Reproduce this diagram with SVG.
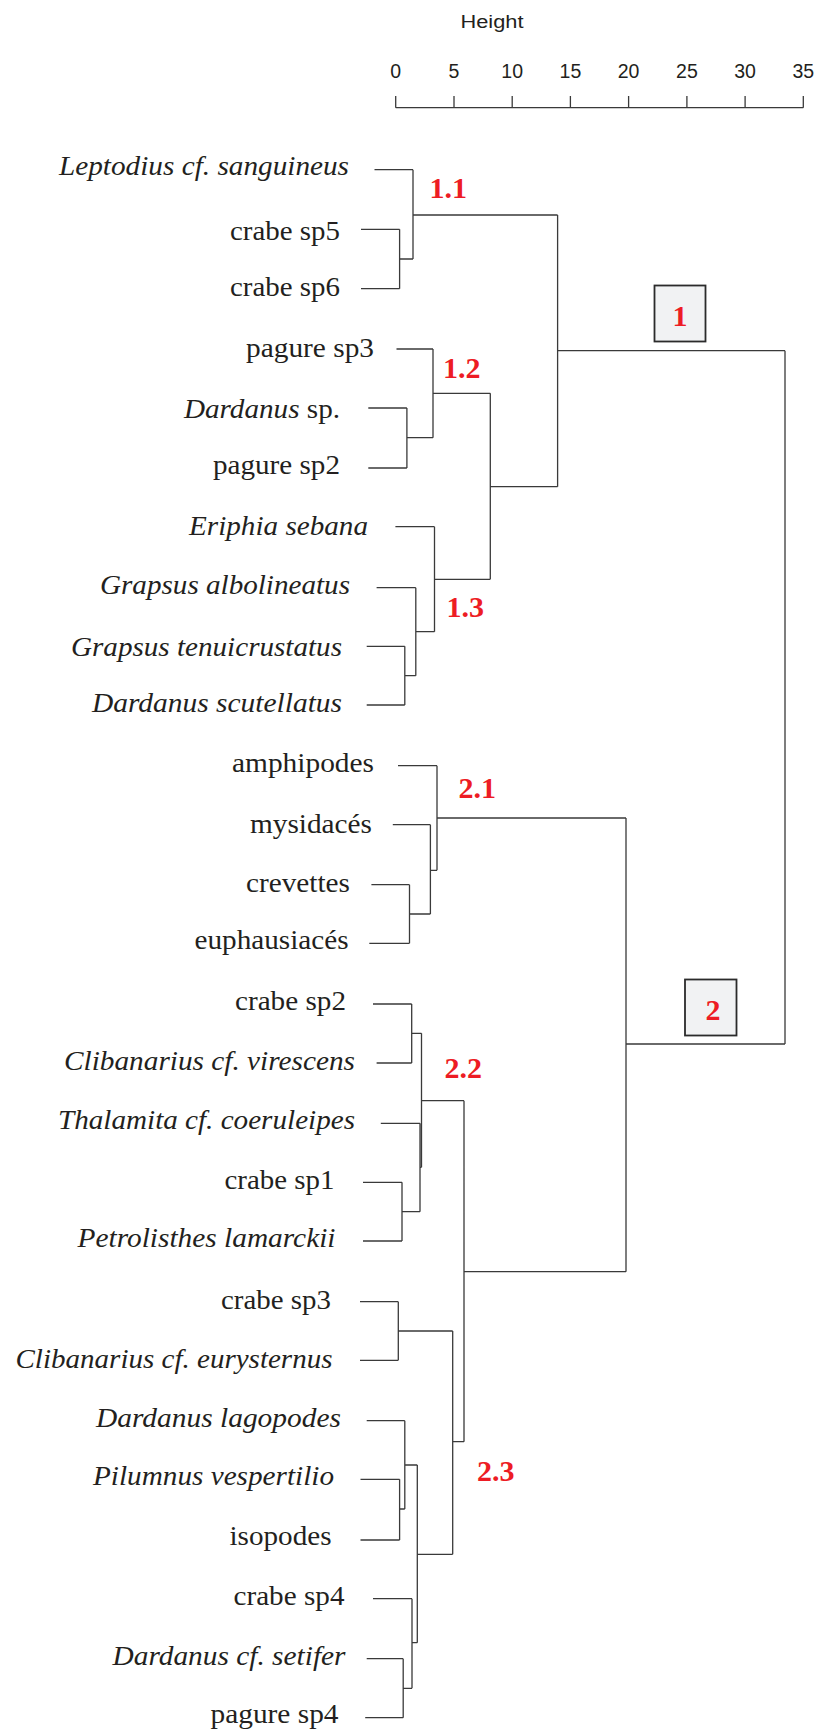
<svg xmlns="http://www.w3.org/2000/svg" width="818" height="1731" viewBox="0 0 818 1731">
<style>
.lbl{font-family:"Liberation Serif","Times New Roman",serif;font-size:28px;fill:#231f20;text-anchor:end}
.it{font-style:italic}
.up{font-style:normal}
.cl{font-family:"Liberation Serif","Times New Roman",serif;font-size:30px;font-weight:bold;fill:#ed1c24}
.ax{font-family:"Liberation Sans",Arial,sans-serif;fill:#231f20;text-anchor:middle}
.tree{fill:none;stroke:#3a3a3a;stroke-width:1.3}
.box{fill:#f1f2f3;stroke:#2b2b2b;stroke-width:1.8}
</style>
<rect width="818" height="1731" fill="#ffffff"/>
<g id="axis">
<text class="ax" x="492" y="27.7" font-size="18" textLength="63" lengthAdjust="spacingAndGlyphs">Height</text>
<g font-size="19.5">
<text class="ax" x="395.7" y="78.3">0</text>
<text class="ax" x="454" y="78.3">5</text>
<text class="ax" x="512.2" y="78.3">10</text>
<text class="ax" x="570.4" y="78.3">15</text>
<text class="ax" x="628.6" y="78.3">20</text>
<text class="ax" x="686.9" y="78.3">25</text>
<text class="ax" x="745.1" y="78.3">30</text>
<text class="ax" x="803.3" y="78.3">35</text>
</g>
<path class="tree" d="M395.7 107.7H803.3M395.7 96V107.7M454 96V107.7M512.2 96V107.7M570.4 96V107.7M628.6 96V107.7M686.9 96V107.7M745.1 96V107.7M803.3 96V107.7"/>
</g>
<g id="connectors" class="tree">
<path d="M374.5 169.7H413M361 229.3H399.6M361 288.7H399.6M399.6 229.3V288.7M399.6 259H413M413 169.7V259M413 215H557.6"/>
<path d="M396.5 349H433M368.3 408H406.9M368.3 468H406.9M406.9 408V468M406.9 437.7H433M433 349V437.7M433 393.3H490.3"/>
<path d="M395.4 526.7H434.5M376.6 587.7H415.8M366.7 646.3H404.8M366.7 705H404.8M404.8 646.3V705M404.8 675.7H415.8M415.8 587.7V675.7M415.8 631.7H434.5M434.5 526.7V631.7M434.5 579.3H490.3"/>
<path d="M490.3 393.3V579.3M490.3 486.7H557.6M557.6 215V486.7M557.6 350.7H785M785 350.7V1044"/>
<path d="M398 765.7H437M392.8 824.7H430.4M371.4 884.7H409.5M369.3 943.3H409.5M409.5 884.7V943.3M409.5 914H430.4M430.4 824.7V914M430.4 870.3H437M437 765.7V870.3M437 818H626M626 818V1271.7M626 1044H785"/>
<path d="M373 1004H411.7M376.6 1063H411.7M411.7 1004V1063M411.7 1033.3H421.5M380.8 1123.3H420M363 1182.3H402M363 1241H402M402 1182.3V1241M402 1211.7H420M420 1123.3V1211.7M420 1167.3H421.5M421.5 1033.3V1167.3M421.5 1100.7H464M464 1100.7V1441.7M464 1271.7H626"/>
<path d="M360 1301.7H398.3M360 1360.3H398.3M398.3 1301.7V1360.3M398.3 1331H452.7M366.7 1420.7H404.8M360.5 1479.3H399.6M360.5 1540H399.6M399.6 1479.3V1540M399.6 1509H404.8M404.8 1420.7V1509M404.8 1465H417.3"/>
<path d="M373 1598.7H412M366.7 1658.7H403.2M365.2 1717.7H403.2M403.2 1658.7V1717.7M403.2 1688.3H412M412 1598.7V1688.3M412 1642.7H417.3M417.3 1465V1642.7M417.3 1554.3H452.7M452.7 1331V1554.3M452.7 1441.7H464"/>
</g>
<g id="leaf-leptodius"><text class="lbl it" x="349" y="175" textLength="290" lengthAdjust="spacingAndGlyphs">Leptodius cf. sanguineus</text></g>
<g id="leaf-crabe-sp5"><text class="lbl" x="340" y="240" textLength="110" lengthAdjust="spacingAndGlyphs">crabe sp5</text></g>
<g id="leaf-crabe-sp6"><text class="lbl" x="340" y="295.7" textLength="110" lengthAdjust="spacingAndGlyphs">crabe sp6</text></g>
<g id="leaf-pagure-sp3"><text class="lbl" x="374" y="356.7" textLength="128" lengthAdjust="spacingAndGlyphs">pagure sp3</text></g>
<g id="leaf-dardanus-sp"><text class="lbl" x="340" y="418" textLength="156" lengthAdjust="spacingAndGlyphs"><tspan class="it">Dardanus</tspan><tspan class="up"> sp.</tspan></text></g>
<g id="leaf-pagure-sp2"><text class="lbl" x="340" y="474" textLength="127" lengthAdjust="spacingAndGlyphs">pagure sp2</text></g>
<g id="leaf-eriphia"><text class="lbl it" x="368" y="535" textLength="179" lengthAdjust="spacingAndGlyphs">Eriphia sebana</text></g>
<g id="leaf-grapsus-albo"><text class="lbl it" x="350" y="594" textLength="250" lengthAdjust="spacingAndGlyphs">Grapsus albolineatus</text></g>
<g id="leaf-grapsus-tenui"><text class="lbl it" x="342" y="655.7" textLength="271" lengthAdjust="spacingAndGlyphs">Grapsus tenuicrustatus</text></g>
<g id="leaf-dardanus-scut"><text class="lbl it" x="342" y="711.7" textLength="250" lengthAdjust="spacingAndGlyphs">Dardanus scutellatus</text></g>
<g id="leaf-amphipodes"><text class="lbl" x="374" y="771.7" textLength="142" lengthAdjust="spacingAndGlyphs">amphipodes</text></g>
<g id="leaf-mysidaces"><text class="lbl" x="372" y="833.3" textLength="122" lengthAdjust="spacingAndGlyphs">mysidacés</text></g>
<g id="leaf-crevettes"><text class="lbl" x="350" y="891.7" textLength="104" lengthAdjust="spacingAndGlyphs">crevettes</text></g>
<g id="leaf-euphausiaces"><text class="lbl" x="348.5" y="949.3" textLength="154" lengthAdjust="spacingAndGlyphs">euphausiacés</text></g>
<g id="leaf-crabe-sp2"><text class="lbl" x="346" y="1010" textLength="111" lengthAdjust="spacingAndGlyphs">crabe sp2</text></g>
<g id="leaf-clibanarius-vir"><text class="lbl it" x="355" y="1070" textLength="291" lengthAdjust="spacingAndGlyphs">Clibanarius cf. virescens</text></g>
<g id="leaf-thalamita"><text class="lbl it" x="355" y="1129.3" textLength="297" lengthAdjust="spacingAndGlyphs">Thalamita cf. coeruleipes</text></g>
<g id="leaf-crabe-sp1"><text class="lbl" x="334.5" y="1189" textLength="110" lengthAdjust="spacingAndGlyphs">crabe sp1</text></g>
<g id="leaf-petrolisthes"><text class="lbl it" x="335.5" y="1247.3" textLength="258" lengthAdjust="spacingAndGlyphs">Petrolisthes lamarckii</text></g>
<g id="leaf-crabe-sp3"><text class="lbl" x="331" y="1308.7" textLength="110" lengthAdjust="spacingAndGlyphs">crabe sp3</text></g>
<g id="leaf-clibanarius-eury"><text class="lbl it" x="332.5" y="1367.7" textLength="317" lengthAdjust="spacingAndGlyphs">Clibanarius cf. eurysternus</text></g>
<g id="leaf-dardanus-lago"><text class="lbl it" x="341" y="1427.3" textLength="245" lengthAdjust="spacingAndGlyphs">Dardanus lagopodes</text></g>
<g id="leaf-pilumnus"><text class="lbl it" x="334" y="1485" textLength="241" lengthAdjust="spacingAndGlyphs">Pilumnus vespertilio</text></g>
<g id="leaf-isopodes"><text class="lbl" x="331.5" y="1545" textLength="102" lengthAdjust="spacingAndGlyphs">isopodes</text></g>
<g id="leaf-crabe-sp4"><text class="lbl" x="344.5" y="1605" textLength="111" lengthAdjust="spacingAndGlyphs">crabe sp4</text></g>
<g id="leaf-dardanus-setifer"><text class="lbl it" x="345.5" y="1665" textLength="233" lengthAdjust="spacingAndGlyphs">Dardanus cf. setifer</text></g>
<g id="leaf-pagure-sp4"><text class="lbl" x="338.5" y="1723.3" textLength="128" lengthAdjust="spacingAndGlyphs">pagure sp4</text></g>
<g id="cluster-1-1"><text class="cl" x="429.5" y="198.3">1.1</text></g>
<g id="cluster-1-2"><text class="cl" x="443" y="378.3">1.2</text></g>
<g id="cluster-1-3"><text class="cl" x="446.5" y="617.3">1.3</text></g>
<g id="cluster-2-1"><text class="cl" x="458.5" y="798.3">2.1</text></g>
<g id="cluster-2-2"><text class="cl" x="444.5" y="1078.3">2.2</text></g>
<g id="cluster-2-3"><text class="cl" x="477" y="1480.7">2.3</text></g>
<g id="group-1"><rect class="box" x="654.5" y="285.5" width="51" height="56"/><text class="cl" x="680" y="325.7" text-anchor="middle">1</text></g>
<g id="group-2"><rect class="box" x="685" y="979.5" width="51.5" height="56"/><text class="cl" x="713" y="1020" text-anchor="middle">2</text></g>
</svg>
